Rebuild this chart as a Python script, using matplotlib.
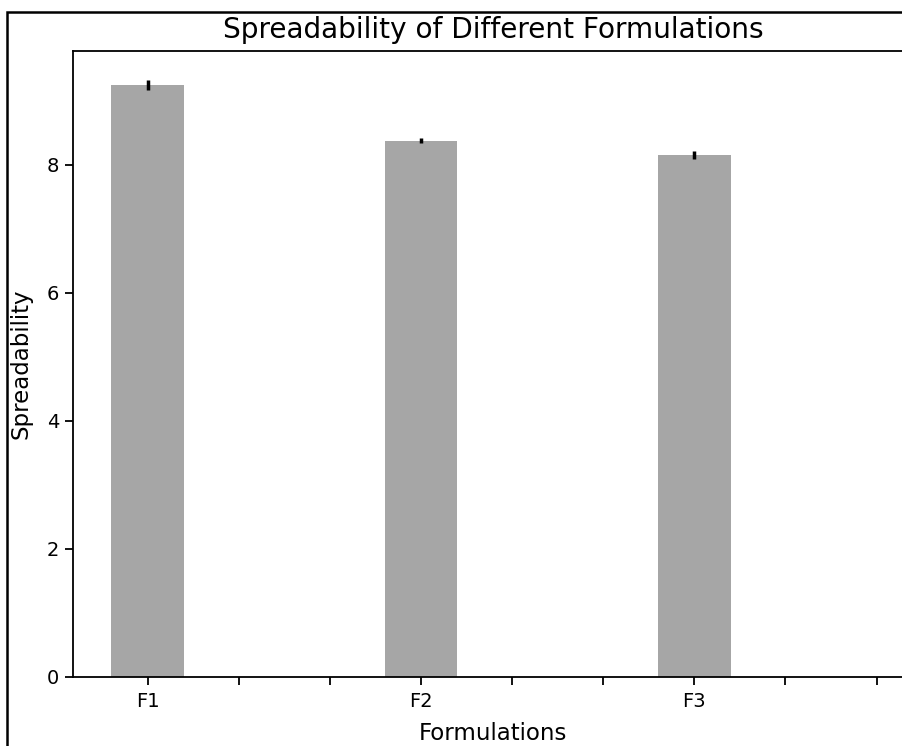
import matplotlib
matplotlib.use('Agg')
import matplotlib.pyplot as plt
from matplotlib.patches import Rectangle

formulations = ['F1', 'F2', 'F3']
positions = [0, 3, 6]
spreadability = [9.25, 8.38, 8.16]
errors = [0.08, 0.04, 0.06]
tick_labels = ['F1', '', '', 'F2', '', '', 'F3', '', '']

plt.rcParams['axes.linewidth'] = 1.3
plt.rcParams['xtick.major.width'] = 1.3
plt.rcParams['ytick.major.width'] = 1.3
plt.rcParams['xtick.major.size'] = 6
plt.rcParams['ytick.major.size'] = 6

fig = plt.figure(figsize=(9.02, 7.46), dpi=100)
ax = fig.add_axes([73 / 902, 1 - 677 / 746, (913 - 73) / 902, (677 - 51) / 746])

ax.bar(positions, spreadability, width=0.8, color='gray', alpha=0.7,
       yerr=errors, error_kw=dict(ecolor='black', elinewidth=2.5, capsize=0))

ax.set_xlim(-0.82, 8.4)
ax.set_ylim(0, 9.78)
ax.set_xticks(range(9))
ax.set_xticklabels(tick_labels, fontsize=14)
ax.set_yticks([0, 2, 4, 6, 8])
ax.tick_params(axis='y', labelsize=14, pad=4)
ax.tick_params(axis='x', pad=5)
ax.set_xlabel('Formulations', fontsize=16.5, labelpad=8)
ax.set_ylabel('Spreadability', fontsize=16.5, labelpad=10)
ax.set_title('Spreadability of Different Formulations', fontsize=20.2, pad=9)

# figure border, cropped on the right and bottom
fig.patches.append(Rectangle((7 / 902, -0.1), 1.2, 1.1 - 12 / 746, transform=fig.transFigure,
                             fill=False, edgecolor='black', linewidth=1.8))

fig.savefig('out.png', dpi=100)
